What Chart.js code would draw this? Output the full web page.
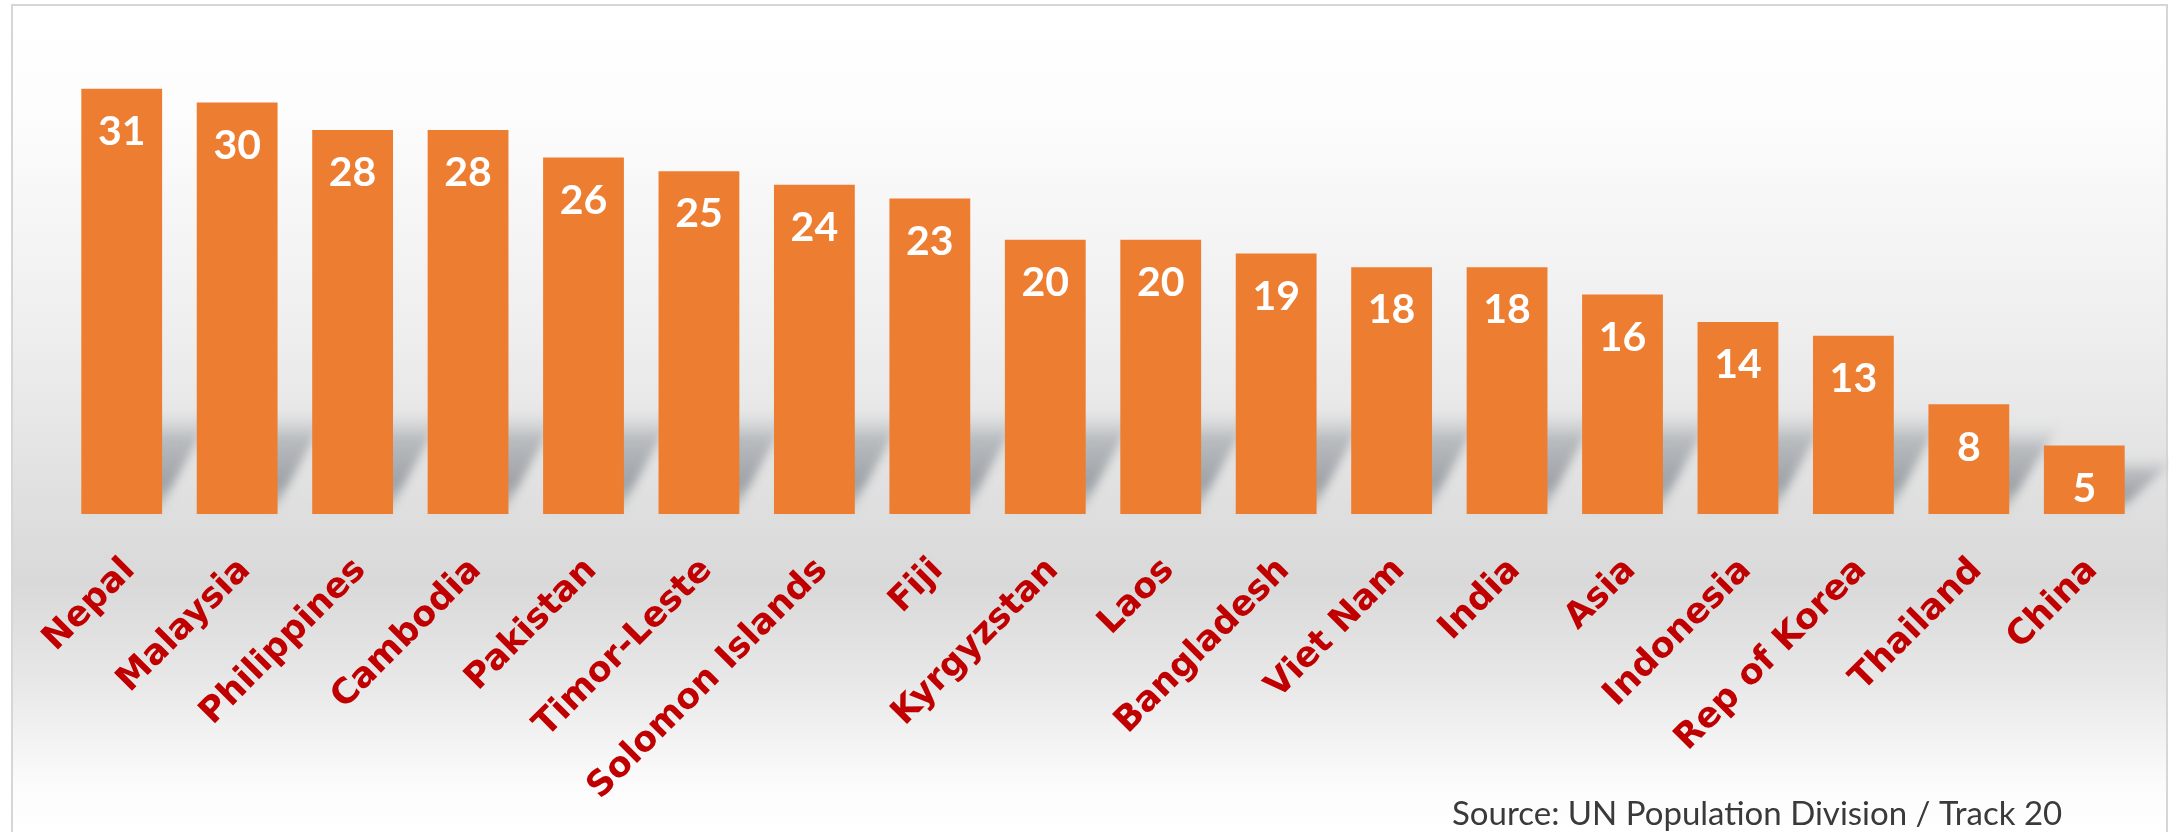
<!DOCTYPE html>
<html>
<head>
<meta charset="utf-8">
<script src="https://cdn.jsdelivr.net/npm/chart.js@4"></script>
<style>
  body { margin: 0; background: #fff; }
  #wrap { width: 2169px; height: 832px; position: relative; }
</style>
</head>
<body>
<div id="wrap"><canvas id="barChart"></canvas></div>
<script>
// Data
const countries = ['Nepal', 'Malaysia', 'Philippines', 'Cambodia', 'Pakistan', 'Timor-Leste',
  'Solomon Islands', 'Fiji', 'Kyrgyzstan', 'Laos', 'Bangladesh', 'Viet Nam', 'India', 'Asia',
  'Indonesia', 'Rep of Korea', 'Thailand', 'China'];
const values = [31, 30, 28, 28, 26, 25, 24, 23, 20, 20, 19, 18, 18, 16, 14, 13, 8, 5];
const sourceNote = 'Source: UN Population Division / Track 20';

const barColor = '#ED7D31';
const labelColor = '#C00000';

// Gradient panel with a thin border behind the chart
const panelPlugin = {
    id: 'panel',
    beforeDraw(chart) {
        const c = chart.ctx;
        const h = chart.height;
        const g = c.createLinearGradient(0, 5, 0, h);
        g.addColorStop(0, '#ffffff');
        g.addColorStop(0.12, '#fdfdfd');
        g.addColorStop(0.4, '#eeeeee');
        g.addColorStop(0.62, '#dedede');
        g.addColorStop(0.7, '#d9d9d9');
        g.addColorStop(0.82, '#e8e8e8');
        g.addColorStop(0.94, '#fbfbfb');
        g.addColorStop(1, '#ffffff');
        c.save();
        c.fillStyle = '#ffffff';
        c.fillRect(0, 0, chart.width, h);
        c.fillStyle = g;
        c.fillRect(12, 5, 2155, h);
        c.strokeStyle = '#d6d6d6';
        c.lineWidth = 2;
        c.strokeRect(12, 5, 2155, h + 10);
        c.restore();
    }
};

// Soft slanted shadow behind each bar
const shadowPlugin = {
    id: 'barShadow',
    beforeDatasetsDraw(chart) {
        const c = chart.ctx;
        const meta = chart.getDatasetMeta(0);
        c.save();
        c.filter = 'blur(5px)';
        meta.data.forEach(bar => {
            const w = bar.width;
            const left = bar.x - w / 2;
            const bottom = bar.base;
            const sh = Math.min(100, (bottom - bar.y) * 0.8);
            const dx = 50;
            const g = c.createLinearGradient(0, bottom, 0, bottom - sh);
            g.addColorStop(0, 'rgba(170,175,180,0.5)');
            g.addColorStop(0.3, 'rgba(150,155,160,0.9)');
            g.addColorStop(0.75, 'rgba(160,165,170,0.65)');
            g.addColorStop(1, 'rgba(190,195,200,0.1)');
            c.fillStyle = g;
            c.beginPath();
            c.moveTo(left + 5, bottom - 6);
            c.lineTo(left + w - 2, bottom - 6);
            c.lineTo(left + w + dx, bottom - sh);
            c.lineTo(left + 5 + dx, bottom - sh);
            c.closePath();
            c.fill();
        });
        c.restore();
    }
};

// White value labels inside the bars and the source line
const valuePlugin = {
    id: 'values',
    afterDatasetsDraw(chart) {
        const c = chart.ctx;
        const meta = chart.getDatasetMeta(0);
        c.save();
        c.fillStyle = '#ffffff';
        c.font = 'bold 41px Lato';
        c.textAlign = 'center';
        c.textBaseline = 'middle';
        meta.data.forEach((bar, i) => {
            c.fillText(values[i], bar.x, bar.y + 43);
        });
        c.fillStyle = '#3a3a3a';
        c.font = '33px Lato';
        c.textAlign = 'left';
        c.textBaseline = 'alphabetic';
        c.fillText(sourceNote, 1452, 825);
        c.restore();
    }
};

const ctx = document.getElementById('barChart').getContext('2d');

const barChart = new Chart(ctx, {
    type: 'bar',
    data: {
        labels: countries,
        datasets: [{
            data: values,
            backgroundColor: barColor,
            borderWidth: 0,
            categoryPercentage: 1,
            barPercentage: 0.7,
        }]
    },
    options: {
        responsive: true,
        maintainAspectRatio: false,
        animation: false,
        layout: {
            padding: { left: 64, right: 27, top: 34, bottom: 0 }
        },
        plugins: {
            legend: { display: false },
            tooltip: { enabled: false },
        },
        scales: {
            x: {
                grid: { display: false },
                border: { display: false },
                ticks: {
                    color: labelColor,
                    font: { family: 'DejaVu Sans', weight: 'bold', size: 35 },
                    minRotation: 45,
                    maxRotation: 45,
                    padding: 28,
                    labelOffset: 8,
                    autoSkip: false,
                },
                afterFit(scale) {
                    scale.height = 318;
                }
            },
            y: {
                display: false,
                min: 0,
                max: 35,
            }
        }
    },
    plugins: [panelPlugin, shadowPlugin, valuePlugin]
});
</script>
</body>
</html>
